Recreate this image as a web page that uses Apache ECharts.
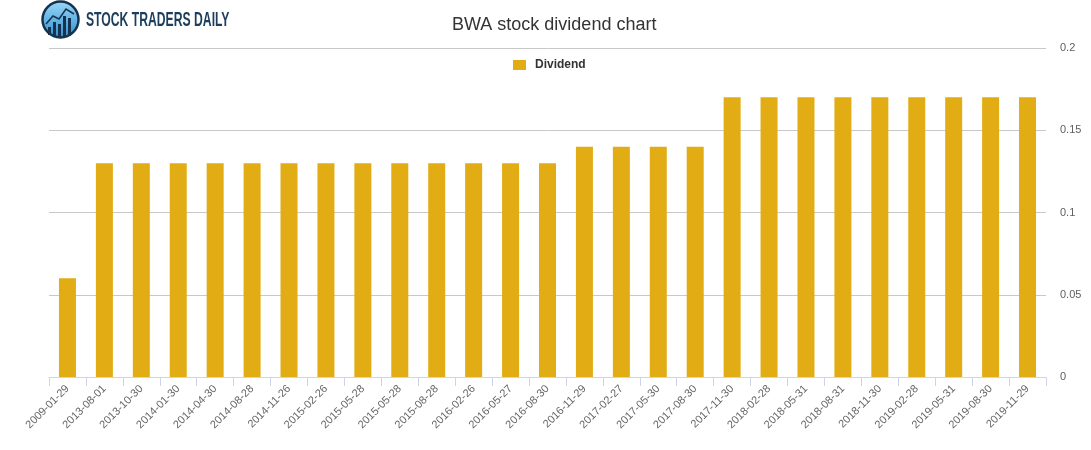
<!DOCTYPE html>
<html>
<head>
<meta charset="utf-8">
<title>BWA stock dividend chart</title>
<script src="https://cdn.jsdelivr.net/npm/echarts@6/dist/echarts.min.js"></script>
<style>
  html, body { margin: 0; padding: 0; background: #fff; }
  #chart { width: 1091px; height: 450px; }
</style>
</head>
<body>
<div id="chart"></div>
<script>
// dates of each dividend payment
const payDates = [
  '2009-01-29', '2013-08-01', '2013-10-30', '2014-01-30', '2014-04-30',
  '2014-08-28', '2014-11-26', '2015-02-26', '2015-05-28', '2015-05-28',
  '2015-08-28', '2016-02-26', '2016-05-27', '2016-08-30', '2016-11-29',
  '2017-02-27', '2017-05-30', '2017-08-30', '2017-11-30', '2018-02-28',
  '2018-05-31', '2018-08-31', '2018-11-30', '2019-02-28', '2019-05-31',
  '2019-08-30', '2019-11-29'
]
const dividends = [
  0.06, 0.13, 0.13, 0.13, 0.13,
  0.13, 0.13, 0.13, 0.13, 0.13,
  0.13, 0.13, 0.13, 0.13, 0.14,
  0.14, 0.14, 0.14, 0.17, 0.17,
  0.17, 0.17, 0.17, 0.17, 0.17,
  0.17, 0.17
]
const yTicks = [0, 0.05, 0.1, 0.15, 0.2]

const chart = echarts.init(document.getElementById('chart'))

// little logo in the top left corner
const logo = [
  {
    type: 'circle',
    shape: { cx: 60.5, cy: 19.5, r: 18 },
    style: {
      fill: new echarts.graphic.LinearGradient(0, 0, 0, 1, [
        { offset: 0, color: '#9ad9f8' },
        { offset: 1, color: '#2e8fd2' }
      ]),
      stroke: '#17324d',
      lineWidth: 2.5
    }
  },
  { type: 'rect', shape: { x: 48, y: 27, width: 3, height: 8 }, style: { fill: '#17324d' } },
  { type: 'rect', shape: { x: 53, y: 22, width: 3, height: 14 }, style: { fill: '#17324d' } },
  { type: 'rect', shape: { x: 58, y: 24, width: 3, height: 13 }, style: { fill: '#17324d' } },
  { type: 'rect', shape: { x: 63, y: 16, width: 3, height: 21 }, style: { fill: '#17324d' } },
  { type: 'rect', shape: { x: 68, y: 18, width: 3, height: 18 }, style: { fill: '#17324d' } },
  {
    type: 'polyline',
    shape: { points: [[46, 24], [53, 16], [59, 19], [66, 9], [74, 14]] },
    style: { stroke: '#17324d', lineWidth: 1.5, fill: null }
  },
  {
    type: 'text',
    x: 86,
    y: 10,
    scaleX: 0.58,
    style: {
      text: 'STOCK TRADERS DAILY',
      font: 'bold 21px "Liberation Sans", Arial, sans-serif',
      fill: '#1d3d5c'
    }
  }
]

const option = {
  animation: false,
  backgroundColor: '#fff',
  title: {
    text: 'BWA stock dividend chart',
    left: 447,
    top: 11,
    textStyle: {
      fontFamily: '"Liberation Sans", Arial, sans-serif',
      fontSize: 18,
      fontWeight: 'normal',
      color: '#333'
    }
  },
  legend: {
    top: 54,
    left: 508,
    itemWidth: 13,
    itemHeight: 10,
    icon: 'rect',
    textStyle: {
      fontFamily: '"Liberation Sans", Arial, sans-serif',
      fontSize: 12,
      fontWeight: 'bold',
      color: '#333',
      padding: [0, 0, 0, 4]
    },
    data: ['Dividend']
  },
  graphic: logo,
  grid: {
    left: 49,
    right: 45,
    top: 48,
    bottom: 73,
    outerBoundsMode: 'none'
  },
  xAxis: {
    type: 'category',
    data: payDates,
    axisLine: { lineStyle: { color: '#ccd6eb' } },
    axisTick: { show: true, length: 9, lineStyle: { color: '#ccd6eb' } },
    axisLabel: {
      interval: 0,
      rotate: 45,
      margin: 10,
      fontFamily: '"Liberation Sans", Arial, sans-serif',
      fontSize: 11,
      color: '#666'
    }
  },
  yAxis: {
    type: 'value',
    position: 'right',
    min: yTicks[0],
    max: yTicks[yTicks.length - 1],
    interval: 0.05,
    axisLine: { show: false },
    axisTick: { show: false },
    splitLine: { lineStyle: { color: '#c8c8c8' } },
    axisLabel: {
      margin: 14,
      fontFamily: '"Liberation Sans", Arial, sans-serif',
      fontSize: 11,
      color: '#606060'
    }
  },
  series: [{
    name: 'Dividend',
    type: 'bar',
    data: dividends,
    barWidth: 17,
    itemStyle: { color: '#e1ac14' }
  }]
}

chart.setOption(option)
</script>
</body>
</html>
